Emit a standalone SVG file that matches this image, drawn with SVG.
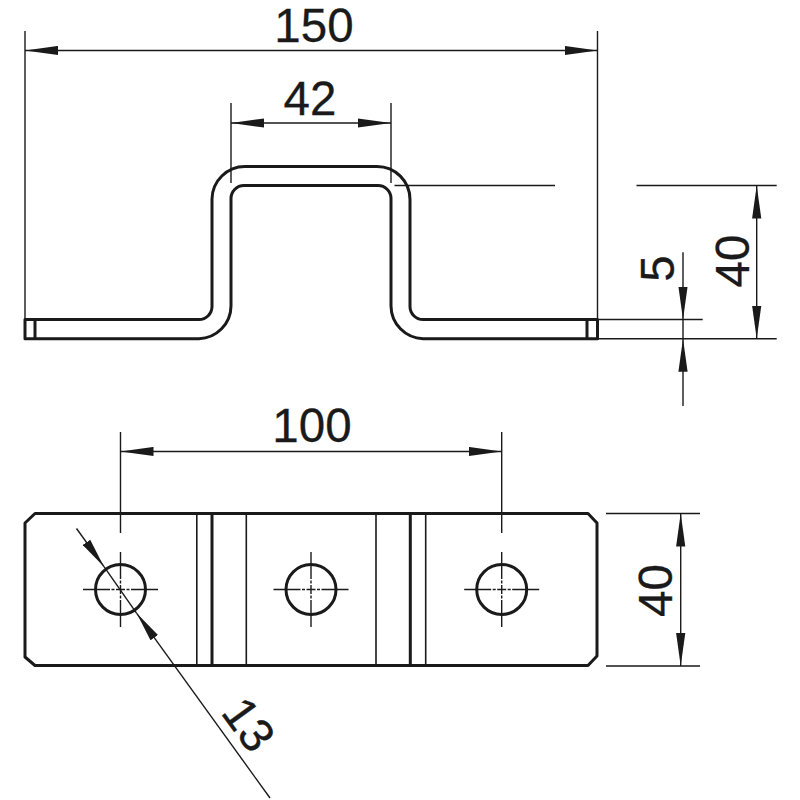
<svg xmlns="http://www.w3.org/2000/svg" width="800" height="800" viewBox="0 0 800 800">
<defs>
<marker id="arrow" markerUnits="userSpaceOnUse" markerWidth="34" markerHeight="10" refX="33" refY="5" orient="auto-start-reverse"><path d="M33,5 L0,0.4 L0,9.6 Z" fill="#1a1a1a"/></marker>
<marker id="arrowDiag" markerUnits="userSpaceOnUse" markerWidth="31" markerHeight="10" refX="30" refY="5" orient="auto"><path d="M30,5 L0,0.4 L0,9.6 Z" fill="#1a1a1a"/></marker>
</defs>
<style>
.thick{fill:none;stroke:#1a1a1a;stroke-width:3;stroke-linejoin:round}
.mid{fill:none;stroke:#1a1a1a;stroke-width:1.6}
.thin{fill:none;stroke:#1a1a1a;stroke-width:1.4}
.center{fill:none;stroke:#1a1a1a;stroke-width:1.4;stroke-dasharray:27 1.5 3 1.5 9 1.5 3 1.5 27}
text{font-family:"Liberation Sans",Arial,sans-serif;font-size:47.5px;fill:#1a1a1a;text-anchor:middle;stroke:#1a1a1a;stroke-width:0.3}
</style>
<rect width="800" height="800" fill="#fff"/>
<g id="profile">
<path class="thick" d="M25,319.5 H199 A13,13 0 0 0 212,306.5 V199 A33,33 0 0 1 245,166.5 H377 A33,33 0 0 1 410,199.5 V306.5 A13,13 0 0 0 423,319.5 H597.5 V338.7 H423 A33,33 0 0 1 391,306 V199 A13,13 0 0 0 378,185.6 H244 A13,13 0 0 0 231,199 V306 A33,33 0 0 1 199,338.7 H25 Z"/>
<path class="thick" d="M35,319.5 V338.7 M587,319.5 V338.7"/>
</g>
<g id="plate">
<path class="thick" d="M35,513.5 H588 L597,523 V656 L588,665.5 H35 L25,657 V523 Z"/>
<path class="thick" d="M212,513.5 V665.5 M410.3,513.5 V665.5"/>
<path class="mid" d="M196.8,513.5 V665.5 M246.3,513.5 V665.5 M376,513.5 V665.5 M425.7,513.5 V665.5"/>
</g>
<g id="hole-left"><circle class="thick" cx="120.5" cy="589.5" r="25"/><path class="center" d="M83,589.5 H158 M120.5,552 V627"/></g>
<g id="hole-middle"><circle class="thick" cx="311" cy="589.5" r="25"/><path class="center" d="M273.5,589.5 H348.5 M311,552 V627"/></g>
<g id="hole-right"><circle class="thick" cx="501.7" cy="589.5" r="25"/><path class="center" d="M464.2,589.5 H539.2 M501.7,552 V627"/></g>
<g id="connectors">
<path class="thin" d="M25,31 V320 M597.5,31 V320"/>
<line class="thin" x1="25" y1="50.5" x2="597.5" y2="50.5" marker-start="url(#arrow)" marker-end="url(#arrow)"/>
<path class="thin" d="M231,103 V183 M391,103 V183"/>
<line class="thin" x1="231" y1="123" x2="391" y2="123" marker-start="url(#arrow)" marker-end="url(#arrow)"/>
<path class="thin" d="M394.5,185.5 H555 M636.5,185.5 H776.7 M597.5,319.5 H702.7 M597.5,338.7 H776.7"/>
<line class="thin" x1="756.7" y1="185.5" x2="756.7" y2="338.7" marker-start="url(#arrow)" marker-end="url(#arrow)"/>
<line class="thin" x1="683" y1="252.3" x2="683" y2="319.5" marker-end="url(#arrow)"/>
<line class="thin" x1="683" y1="406" x2="683" y2="338.7" marker-end="url(#arrow)"/>
<line class="thin" x1="683" y1="319.5" x2="683" y2="338.7"/>
<path class="thin" d="M120.5,432 V533 M501.7,432 V533"/>
<line class="thin" x1="120.5" y1="451.5" x2="501.7" y2="451.5" marker-start="url(#arrow)" marker-end="url(#arrow)"/>
<path class="thin" d="M606,513.5 H700 M606,666 H700"/>
<line class="thin" x1="680.7" y1="513.5" x2="680.7" y2="666" marker-start="url(#arrow)" marker-end="url(#arrow)"/>
<line class="thin" x1="76.5" y1="528.5" x2="104" y2="566.7" marker-end="url(#arrowDiag)"/>
<line class="thin" x1="270" y1="798" x2="136.7" y2="613.3" marker-end="url(#arrowDiag)"/>
<line class="thin" x1="104" y1="566.7" x2="136.7" y2="613.3"/>
</g>
<g id="labels">
<text x="314" y="42">150</text>
<text x="310" y="115">42</text>
<text x="312" y="442">100</text>
<text transform="translate(749,261) rotate(-90)">40</text>
<text transform="translate(674,268.5) rotate(-90)">5</text>
<text transform="translate(672,590.5) rotate(-90)">40</text>
<text transform="translate(235.5,734) rotate(54.3)">13</text>
</g>
</svg>
